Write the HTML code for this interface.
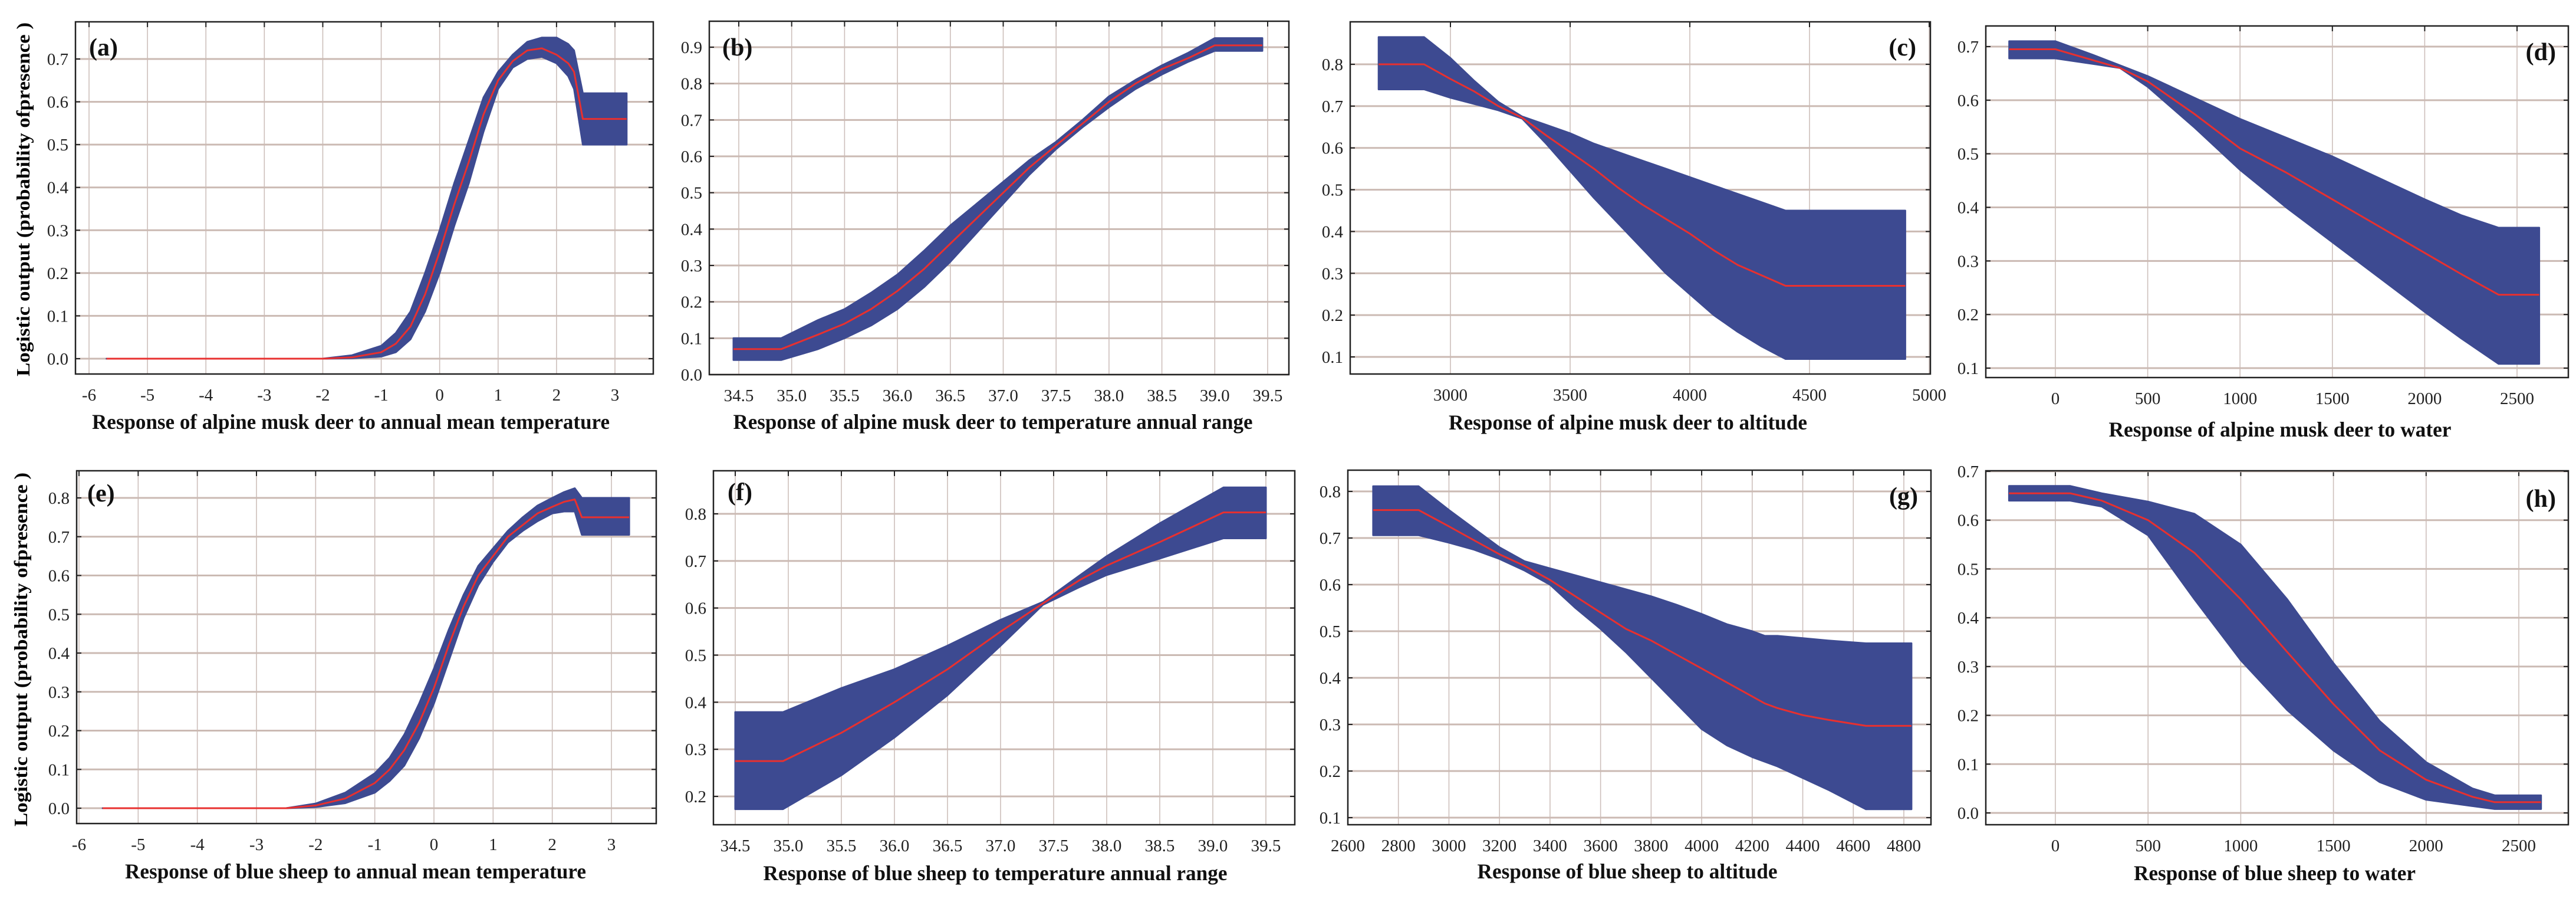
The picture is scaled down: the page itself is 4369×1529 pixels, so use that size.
<!DOCTYPE html>
<html><head><meta charset="utf-8">
<style>
html,body{margin:0;padding:0;background:#fff;}
svg{display:block;font-family:"Liberation Serif",serif;}
</style></head>
<body>
<svg id="fig" width="4369" height="1529" viewBox="0 0 4369 1529" xmlns="http://www.w3.org/2000/svg">
<rect width="4369" height="1529" fill="#fff"/>
<text transform="translate(50,338) rotate(-90)" text-anchor="middle" font-weight="bold" font-size="32" textLength="600" lengthAdjust="spacingAndGlyphs">Logistic output (probability ofpresence )</text>
<text transform="translate(46,1101) rotate(-90)" text-anchor="middle" font-weight="bold" font-size="32" textLength="600" lengthAdjust="spacingAndGlyphs">Logistic output (probability ofpresence )</text>
</svg>
<script>
// Panel (a) alpine musk deer – annual mean temperature
const aX=[-5.7,-2,-1.5,-1,-0.75,-0.5,-0.25,0,0.25,0.5,0.75,1,1.25,1.5,1.75,2,2.2,2.3,2.45,3.2];
const aMean=[0,0,0.003,0.015,0.035,0.075,0.15,0.25,0.36,0.46,0.57,0.65,0.695,0.72,0.725,0.71,0.69,0.67,0.56,0.56];
const aLow=[0,0,0.001,0.005,0.015,0.045,0.11,0.2,0.31,0.41,0.53,0.63,0.68,0.70,0.705,0.69,0.66,0.63,0.50,0.50];
const aUp=[0,0,0.008,0.03,0.06,0.11,0.2,0.3,0.41,0.51,0.61,0.67,0.71,0.74,0.75,0.75,0.735,0.72,0.62,0.62];
// Panel (b) alpine musk deer – temperature annual range
const bX=[34.45,34.9,35.25,35.5,35.75,36,36.25,36.5,36.75,37,37.25,37.5,37.75,38,38.25,38.5,38.75,39.0,39.45];
const bMean=[0.07,0.07,0.11,0.14,0.18,0.23,0.29,0.36,0.43,0.5,0.57,0.63,0.69,0.75,0.8,0.84,0.87,0.905,0.905];
const bLow=[0.04,0.04,0.07,0.1,0.135,0.18,0.24,0.31,0.39,0.47,0.55,0.62,0.68,0.735,0.785,0.825,0.86,0.89,0.89];
const bUp=[0.10,0.10,0.15,0.18,0.225,0.275,0.34,0.41,0.47,0.53,0.59,0.64,0.70,0.765,0.81,0.85,0.885,0.925,0.925];
// Panel (c) alpine musk deer – altitude
const cX=[2700,2890,3000,3100,3200,3300,3400,3500,3600,3700,3800,3900,4000,4100,4200,4300,4400,4900];
const cMean=[0.80,0.80,0.765,0.735,0.70,0.672,0.63,0.59,0.55,0.505,0.465,0.43,0.395,0.355,0.32,0.295,0.27,0.27];
const cLow=[0.74,0.74,0.72,0.705,0.69,0.67,0.61,0.545,0.48,0.42,0.36,0.30,0.25,0.20,0.16,0.125,0.095,0.095];
const cUp=[0.865,0.865,0.815,0.76,0.71,0.675,0.655,0.635,0.61,0.59,0.57,0.55,0.53,0.51,0.49,0.47,0.45,0.45];
// Panel (d) alpine musk deer – water
const dX=[-250,0,200,350,500,750,1000,1250,1500,1750,2000,2200,2400,2620];
const dMean=[0.695,0.695,0.675,0.66,0.635,0.575,0.51,0.465,0.415,0.365,0.315,0.275,0.237,0.237];
const dLow=[0.678,0.678,0.668,0.66,0.625,0.55,0.47,0.40,0.335,0.27,0.205,0.155,0.108,0.108];
const dUp=[0.71,0.71,0.685,0.665,0.645,0.605,0.565,0.53,0.495,0.455,0.415,0.385,0.362,0.362];
// Panel (e) blue sheep – annual mean temperature
const eX=[-5.6,-2.5,-2,-1.5,-1,-0.75,-0.5,-0.25,0,0.25,0.5,0.75,1,1.25,1.5,1.75,2,2.2,2.38,2.5,3.3];
const eMean=[0,0,0.007,0.025,0.065,0.1,0.15,0.22,0.31,0.42,0.52,0.6,0.65,0.7,0.73,0.76,0.777,0.79,0.796,0.75,0.75];
const eLow=[0,0,0.003,0.013,0.04,0.07,0.11,0.18,0.27,0.38,0.49,0.575,0.635,0.685,0.715,0.74,0.76,0.765,0.765,0.705,0.705];
const eUp=[0,0,0.012,0.04,0.09,0.13,0.19,0.27,0.36,0.46,0.55,0.625,0.67,0.715,0.75,0.78,0.8,0.815,0.825,0.8,0.8];
// Panel (f) blue sheep – temperature annual range
const fX=[34.5,34.95,35.5,36,36.5,37,37.4,37.75,38,38.5,39.1,39.5];
const fMean=[0.275,0.275,0.335,0.4,0.47,0.55,0.61,0.66,0.69,0.74,0.803,0.803];
const fLow=[0.173,0.173,0.245,0.325,0.415,0.52,0.607,0.645,0.67,0.705,0.748,0.748];
const fUp=[0.379,0.379,0.43,0.47,0.52,0.575,0.613,0.67,0.71,0.78,0.856,0.856];
// Panel (g) blue sheep – altitude
const gX=[2700,2880,3000,3100,3200,3300,3400,3500,3600,3700,3800,3900,4000,4100,4200,4250,4300,4400,4500,4650,4830];
const gMean=[0.76,0.76,0.725,0.695,0.665,0.64,0.61,0.575,0.54,0.505,0.48,0.45,0.42,0.39,0.36,0.345,0.335,0.32,0.31,0.297,0.297];
const gLow=[0.706,0.706,0.69,0.675,0.655,0.63,0.6,0.55,0.505,0.455,0.4,0.345,0.29,0.255,0.23,0.22,0.21,0.185,0.16,0.118,0.118];
const gUp=[0.811,0.811,0.76,0.72,0.68,0.65,0.635,0.62,0.605,0.59,0.575,0.557,0.537,0.515,0.50,0.49,0.49,0.485,0.48,0.474,0.474];
// Panel (h) blue sheep – water
const hX=[-250,80,250,500,750,1000,1250,1500,1750,2000,2250,2370,2620];
const hMean=[0.655,0.655,0.64,0.6,0.533,0.438,0.33,0.223,0.128,0.068,0.033,0.022,0.022];
const hLow=[0.64,0.64,0.628,0.569,0.438,0.313,0.211,0.128,0.063,0.027,0.014,0.008,0.008];
const hUp=[0.67,0.67,0.655,0.638,0.613,0.55,0.438,0.307,0.188,0.104,0.05,0.036,0.036];
// Tick labels
const tickTempX=["-6","-5","-4","-3","-2","-1","0","1","2","3"];
const tickRangeX=["34.5","35.0","35.5","36.0","36.5","37.0","37.5","38.0","38.5","39.0","39.5"];
const tickAltCX=["3000","3500","4000","4500","5000"];
const tickAltGX=["2600","2800","3000","3200","3400","3600","3800","4000","4200","4400","4600","4800"];
const tickWaterX=["0","500","1000","1500","2000","2500"];
const tickAY=["0.0","0.1","0.2","0.3","0.4","0.5","0.6","0.7"];
const tickBY=["0.0","0.1","0.2","0.3","0.4","0.5","0.6","0.7","0.8","0.9"];
const tickCY=["0.1","0.2","0.3","0.4","0.5","0.6","0.7","0.8"];
const tickDY=["0.1","0.2","0.3","0.4","0.5","0.6","0.7"];
const tickEY=["0.0","0.1","0.2","0.3","0.4","0.5","0.6","0.7","0.8"];
const tickFY=["0.2","0.3","0.4","0.5","0.6","0.7","0.8"];
const tickHY=["0.0","0.1","0.2","0.3","0.4","0.5","0.6","0.7"];

const NS="http://www.w3.org/2000/svg";
const svg=document.getElementById('fig');
function mk(tag,attrs,parent){const e=document.createElementNS(NS,tag);for(const k in attrs)e.setAttribute(k,attrs[k]);(parent||svg).appendChild(e);return e;}

const panels=[
 {id:'a',box:[128,37,1108,634],xc:[-6,151,3,1043],yc:[0,608,0.7,100],X:aX,M:aMean,L:aLow,U:aUp,xt:tickTempX,yt:tickAY,title:'Response of alpine musk deer to annual mean temperature',tx:595,tw:878,ty:727,lab:[151,94,'start']},
 {id:'b',box:[1203,36,2186,635],xc:[34.5,1253,39.5,2150],yc:[0,635,0.9,80],X:bX,M:bMean,L:bLow,U:bUp,xt:tickRangeX,yt:tickBY,title:'Response of alpine musk deer to temperature annual range',tx:1684,tw:881,ty:727,lab:[1225,94,'start']},
 {id:'c',box:[2290,37,3274,634],xc:[3000,2460,4500,3069],yc:[0.8,109,0.1,605],X:cX,M:cMean,L:cLow,U:cUp,xt:tickAltCX,yt:tickCY,title:'Response of alpine musk deer to altitude',tx:2761,tw:608,ty:728,lab:[3250,94,'end']},
 {id:'d',box:[3368,44,4356,640],xc:[0,3486,2500,4269],yc:[0.7,79,0.1,624],X:dX,M:dMean,L:dLow,U:dUp,xt:tickWaterX,yt:tickDY,title:'Response of alpine musk deer to water',tx:3867,tw:581,ty:740,lab:[4335,102,'end']},
 {id:'e',box:[130,798,1113,1396],xc:[-6,134,3,1037],yc:[0,1370,0.8,844],X:eX,M:eMean,L:eLow,U:eUp,xt:tickTempX,yt:tickEY,title:'Response of blue sheep to annual mean temperature',tx:603,tw:782,ty:1489,lab:[148,850,'start']},
 {id:'f',box:[1210,798,2196,1398],xc:[34.5,1247,39.5,2147],yc:[0.8,871,0.2,1350],X:fX,M:fMean,L:fLow,U:fUp,xt:tickRangeX,yt:tickFY,title:'Response of blue sheep to temperature annual range',tx:1688,tw:787,ty:1492,lab:[1234,848,'start']},
 {id:'g',box:[2286,797,3275,1398],xc:[2600,2286,4800,3229],yc:[0.8,833,0.1,1386],X:gX,M:gMean,L:gLow,U:gUp,xt:tickAltGX,yt:tickCY,title:'Response of blue sheep to altitude',tx:2760,tw:509,ty:1489,lab:[3253,855,'end']},
 {id:'h',box:[3368,798,4356,1398],xc:[0,3486,2500,4272],yc:[0,1378,0.7,799],X:hX,M:hMean,L:hLow,U:hUp,xt:tickWaterX,yt:tickHY,title:'Response of blue sheep to water',tx:3858,tw:478,ty:1492,lab:[4335,859,'end']}
];

panels.forEach(p=>{
 const [x0,y0,x1,y1]=p.box;
 const sx=v=>p.xc[1]+(v-p.xc[0])*(p.xc[3]-p.xc[1])/(p.xc[2]-p.xc[0]);
 const sy=v=>p.yc[1]+(v-p.yc[0])*(p.yc[3]-p.yc[1])/(p.yc[2]-p.yc[0]);
 const g=mk('g',{});
 
 
 const clipId='clip-'+p.id;
 const cp=mk('clipPath',{id:clipId},g);
 mk('rect',{x:x0,y:y0,width:x1-x0,height:y1-y0},cp);
 // grid
 p.xt.forEach(t=>{
  const x=sx(parseFloat(t));
  const gl=mk('line',{x1:x,x2:x,y1:y0,y2:y1,stroke:'#cdbfbb','stroke-width':1.6},g);
  
  
  mk('line',{x1:x,x2:x,y1:y0,y2:y0+9,stroke:'#222','stroke-width':2},g);
  const tl=mk('text',{x:x,y:y1+45,'text-anchor':'middle','font-size':29,fill:'#222'},g);
  
  
  tl.textContent=t;
 });
 p.yt.forEach(t=>{
  const y=sy(parseFloat(t));
  const gl=mk('line',{x1:x0,x2:x1,y1:y,y2:y,stroke:'#cbbab3','stroke-width':3},g);
  
  
  mk('line',{x1:x1-8,x2:x1,y1:y,y2:y,stroke:'#222','stroke-width':2},g);
  mk('line',{x1:x0,x2:x0+8,y1:y,y2:y,stroke:'#222','stroke-width':2},g);
  const tl=mk('text',{x:x0-12,y:y+10,'text-anchor':'end','font-size':29,fill:'#222'},g);
  
  
  tl.textContent=t;
 });
 // band
 let d='';
 p.X.forEach((v,i)=>{d+=(i?'L':'M')+sx(v).toFixed(1)+','+sy(p.U[i]).toFixed(1);});
 for(let i=p.X.length-1;i>=0;i--){d+='L'+sx(p.X[i]).toFixed(1)+','+sy(p.L[i]).toFixed(1);}
 d+='Z';
 const band=mk('path',{d:d,fill:'#3d4a91',stroke:'#3d4a91','stroke-width':3,'stroke-linejoin':'round','clip-path':'url(#'+clipId+')'},g);
 
 
 const pts=p.X.map((v,i)=>sx(v).toFixed(1)+','+sy(p.M[i]).toFixed(1)).join(' ');
 const ln=mk('polyline',{points:pts,fill:'none',stroke:'#e8302f','stroke-width':3,'stroke-linejoin':'round'},g);
 
 
 // frame
 const fr=mk('rect',{x:x0,y:y0,width:x1-x0,height:y1-y0,fill:'none',stroke:'#222','stroke-width':2.5},g);
 
 
 const lb=mk('text',{x:p.lab[0],y:p.lab[1],'text-anchor':p.lab[2],'font-size':42,'font-weight':'bold',fill:'#111'},g);
 
 
 lb.textContent='('+p.id+')';
 const ti=mk('text',{x:p.tx,y:p.ty,'text-anchor':'middle','font-size':36,'font-weight':'bold',fill:'#111',textLength:p.tw,lengthAdjust:'spacingAndGlyphs'},g);
 
 
 ti.textContent=p.title;
});
</script>
</body></html>
